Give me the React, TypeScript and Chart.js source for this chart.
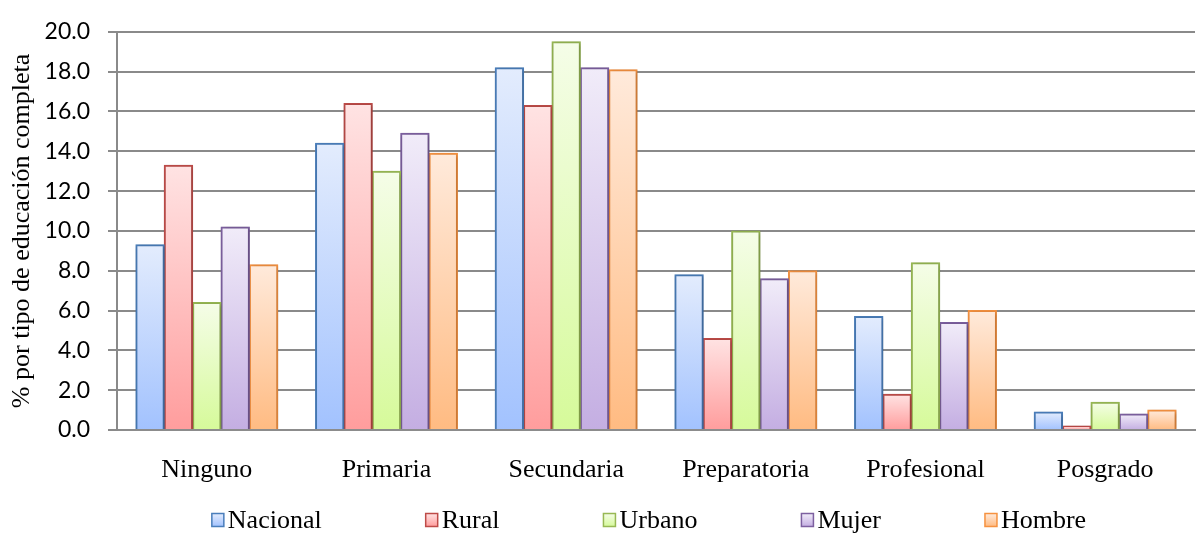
import React, { useEffect, useRef } from "react";
import { Chart, registerables } from "chart.js";

Chart.register(...registerables);

const categories = ["Ninguno", "Primaria", "Secundaria", "Preparatoria", "Profesional", "Posgrado"];
const seriesNames = ["Nacional", "Rural", "Urbano", "Mujer", "Hombre"];
const nacional = [9.3, 14.4, 18.2, 7.8, 5.7, 0.9];
const rural = [13.3, 16.4, 16.3, 4.6, 1.8, 0.2];
const urbano = [6.4, 13.0, 19.5, 10.0, 8.4, 1.4];
const mujer = [10.2, 14.9, 18.2, 7.6, 5.4, 0.8];
const hombre = [8.3, 13.9, 18.1, 8.0, 6.0, 1.0];
const yMin = 0;
const yMax = 20;
const yStep = 2;
const yTitle = "% por tipo de educación completa";

const seriesValues = [nacional, rural, urbano, mujer, hombre];
const borderColors = ["#4a7ebb", "#be4b48", "#98b954", "#7d60a0", "#f69240"];
const topColors = ["#e3ecfd", "#ffe3e3", "#f5fde8", "#f1ecf9", "#ffeadb"];
const bottomColors = ["#a2c2fe", "#ff9d9d", "#d6fa9a", "#c4aee2", "#ffbb82"];

const SERIF = "'Liberation Serif', 'Times New Roman', serif";
const SANS = "Lato, 'Open Sans', sans-serif";

export default function App() {
  const ref = useRef<HTMLCanvasElement | null>(null);

  useEffect(() => {
    document.body.style.margin = "0";
    const canvas = ref.current;
    if (!canvas) return;

    const shadowPlugin = {
      id: "barShadow",
      beforeDatasetsDraw(chart: any) {
        const ctx = chart.ctx as CanvasRenderingContext2D;
        ctx.save();
        ctx.shadowColor = "rgba(0,0,0,0.28)";
        ctx.shadowBlur = 4;
        ctx.shadowOffsetX = 1;
        ctx.shadowOffsetY = 1;
      },
      afterDatasetsDraw(chart: any) {
        chart.ctx.restore();
      },
    };

    const legendPlugin = {
      id: "customLegend",
      afterDraw(chart: any) {
        const ctx = chart.ctx as CanvasRenderingContext2D;
        const area = chart.chartArea;
        ctx.save();
        ctx.font = `26px ${SERIF}`;
        const boxW = 12;
        const boxH = 13;
        const textGap = 4;
        const gap = 104;
        const widths = seriesNames.map((n) => boxW + textGap + ctx.measureText(n).width);
        const total = widths.reduce((a, b) => a + b, 0) + gap * (seriesNames.length - 1);
        let x = (area.left + area.right) / 2 - 7 - total / 2;
        const cy = 520;
        seriesNames.forEach((name, i) => {
          const g = ctx.createLinearGradient(0, cy - boxH / 2, 0, cy + boxH / 2);
          g.addColorStop(0, topColors[i]);
          g.addColorStop(1, bottomColors[i]);
          ctx.fillStyle = g;
          ctx.fillRect(x, cy - boxH / 2, boxW, boxH);
          ctx.strokeStyle = borderColors[i];
          ctx.lineWidth = 1.5;
          ctx.strokeRect(x, cy - boxH / 2, boxW, boxH);
          ctx.fillStyle = "#000";
          ctx.textBaseline = "middle";
          ctx.textAlign = "left";
          ctx.fillText(name, x + boxW + textGap, cy + 1);
          x += widths[i] + gap;
        });
        ctx.restore();
      },
    };

    const makeBg = (i: number) => (c: any) => {
      const chart = c.chart;
      const area = chart.chartArea;
      if (!area || c.type !== "data" || !chart.scales.y) return topColors[i];
      const y = chart.scales.y;
      const yTop = y.getPixelForValue(c.raw);
      const yBot = y.getPixelForValue(0);
      if (!isFinite(yTop) || !isFinite(yBot) || yTop === yBot) return topColors[i];
      const g = chart.ctx.createLinearGradient(0, yTop, 0, yBot);
      g.addColorStop(0, topColors[i]);
      g.addColorStop(1, bottomColors[i]);
      return g;
    };

    const chart = new Chart(canvas, {
      type: "bar",
      data: {
        labels: categories,
        datasets: seriesNames.map((name, i) => ({
          label: name,
          data: seriesValues[i],
          backgroundColor: makeBg(i),
          borderColor: borderColors[i],
          borderWidth: 2,
          categoryPercentage: 0.79,
          barPercentage: 1.0,
          inflateAmount: 0.5,
        })),
      },
      options: {
        animation: false,
        responsive: false,
        maintainAspectRatio: false,
        layout: { padding: { top: 25, right: 1, left: 0, bottom: 0 } },
        plugins: {
          legend: { display: false },
          tooltip: { enabled: false },
        },
        scales: {
          x: {
            grid: { display: false },
            border: { display: true, color: "#8c8c8c", width: 2 },
            ticks: {
              color: "#000",
              font: { family: SERIF, size: 26 },
              padding: 17,
              maxRotation: 0,
            },
            afterFit(scale: any) {
              scale.height = 103;
            },
          },
          y: {
            min: yMin,
            max: yMax,
            ticks: {
              stepSize: yStep,
              color: "#000",
              font: { family: SANS, size: 23 },
              padding: 18,
              callback: (v: any) => Number(v).toFixed(1),
            },
            grid: {
              color: "#8a8a8a",
              lineWidth: 2,
              tickLength: 9,
              drawTicks: true,
            },
            border: { display: true, color: "#8a8a8a", width: 2 },
            title: {
              display: true,
              text: yTitle,
              color: "#000",
              font: { family: SERIF, size: 26 },
              padding: { top: 7, bottom: 0 },
            },
            afterFit(scale: any) {
              scale.width = 117;
            },
          },
        },
      },
      plugins: [shadowPlugin, legendPlugin],
    });

    return () => chart.destroy();
  }, []);

  return (
    <div style={{ width: 1196, height: 533 }}>
      <canvas ref={ref} width={1196} height={533} style={{ display: "block" }} />
    </div>
  );
}
